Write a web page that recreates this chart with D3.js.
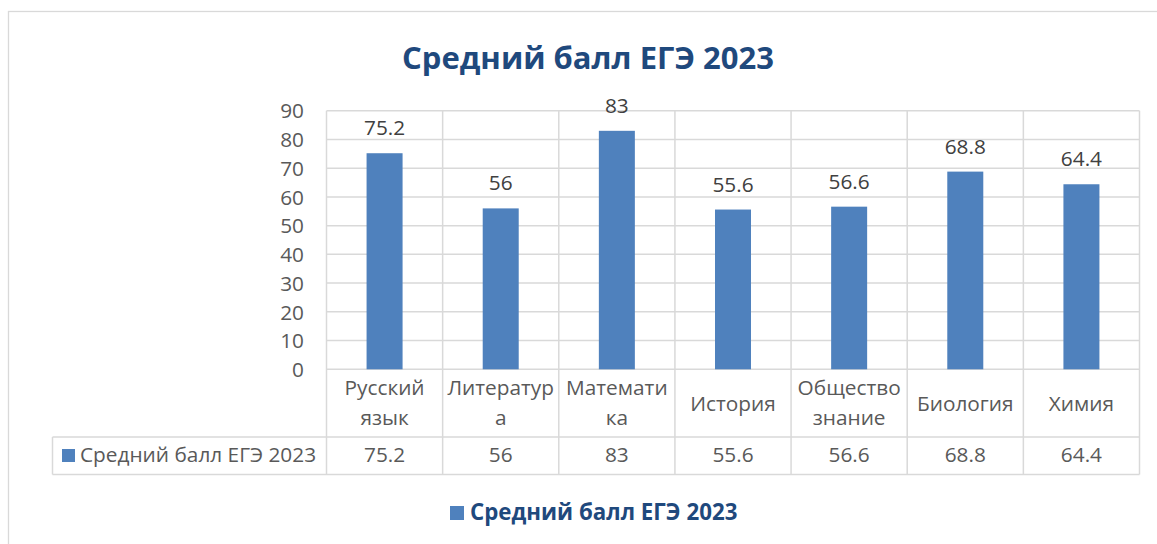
<!DOCTYPE html>
<html>
<head>
<meta charset="utf-8">
<script src="https://cdn.jsdelivr.net/npm/d3@7"></script>
<style>
  body { margin: 0; background: #fff; }
  svg text { font-family: 'Open Sans', 'Noto Sans', sans-serif; }
</style>
</head>
<body>
<div id="chart"></div>
<script>
// Data
const categories = ['Русский язык', 'Литература', 'Математика', 'История', 'Обществознание', 'Биология', 'Химия'];
const categoryLines = [['Русский', 'язык'], ['Литератур', 'а'], ['Математи', 'ка'], ['История'], ['Общество', 'знание'], ['Биология'], ['Химия']];
const values = [75.2, 56, 83, 55.6, 56.6, 68.8, 64.4];
const yTicks = [0, 10, 20, 30, 40, 50, 60, 70, 80, 90];
const seriesName = 'Средний балл ЕГЭ 2023';
const chartTitle = 'Средний балл ЕГЭ 2023';

const width = 1157;
const height = 544;
const plot = { left: 326.5, right: 1139.5, top: 110.7, bottom: 369.3 };
const table = { left: 52.5, rowMid: 437, bottom: 474.5 };

const barColor = '#4F81BD';
const gridColor = '#D9D9D9';
const titleColor = '#1F497D';
const labelSize = '20.8px';

const svg = d3.select('#chart')
    .append('svg')
    .attr('width', width)
    .attr('height', height);

// Outer chart border (runs off the window)
svg.append('rect')
    .attr('x', 8.5)
    .attr('y', 11.5)
    .attr('width', 1200)
    .attr('height', 600)
    .style('fill', 'none')
    .style('stroke', gridColor)
    .style('stroke-width', 1.3);

// Title
svg.append('text')
    .attr('x', 588)
    .attr('y', 69)
    .attr('text-anchor', 'middle')
    .style('font-size', '31px')
    .style('font-weight', 'bold')
    .style('fill', titleColor)
    .text(chartTitle);

// Scales
const xScale = d3.scaleBand()
    .domain(categories)
    .range([plot.left, plot.right])
    .padding(0);

const yScale = d3.scaleLinear()
    .domain([0, 90])
    .range([plot.bottom, plot.top]);

// Horizontal gridlines
svg.append('g')
    .selectAll('line')
    .data(yTicks)
    .join('line')
    .attr('x1', plot.left)
    .attr('x2', plot.right)
    .attr('y1', d => yScale(d))
    .attr('y2', d => yScale(d))
    .style('stroke', gridColor)
    .style('stroke-width', 1.5);

// Vertical category lines through plot and table
const bounds = categories.map(c => xScale(c)).concat([plot.right]);
svg.append('g')
    .selectAll('line')
    .data(bounds)
    .join('line')
    .attr('x1', d => d)
    .attr('x2', d => d)
    .attr('y1', plot.top)
    .attr('y2', table.bottom)
    .style('stroke', gridColor)
    .style('stroke-width', 1.5);

// Table horizontal lines and left edge
svg.append('line')
    .attr('x1', table.left).attr('x2', plot.right)
    .attr('y1', table.rowMid).attr('y2', table.rowMid)
    .style('stroke', gridColor).style('stroke-width', 1.5);
svg.append('line')
    .attr('x1', table.left).attr('x2', plot.right)
    .attr('y1', table.bottom).attr('y2', table.bottom)
    .style('stroke', gridColor).style('stroke-width', 1.5);
svg.append('line')
    .attr('x1', table.left).attr('x2', table.left)
    .attr('y1', table.rowMid).attr('y2', table.bottom)
    .style('stroke', gridColor).style('stroke-width', 1.5);

// Y axis labels
const yAxis = d3.axisLeft(yScale)
    .tickValues(yTicks)
    .tickSize(0)
    .tickPadding(0);

const yAxisG = svg.append('g')
    .attr('transform', `translate(304,0)`)
    .call(yAxis);
yAxisG.select('.domain').remove();
yAxisG.selectAll('text')
    .attr('dy', '0.35em')
    .style('font-size', labelSize)
    .style('fill', '#595959');

// Bars
const barWidth = xScale.bandwidth() * 0.31;
svg.append('g')
    .selectAll('rect')
    .data(values)
    .join('rect')
    .attr('x', (d, i) => xScale(categories[i]) + (xScale.bandwidth() - barWidth) / 2)
    .attr('y', d => yScale(d))
    .attr('width', barWidth)
    .attr('height', d => yScale(0) - yScale(d))
    .style('fill', barColor);

// Data labels
svg.append('g')
    .selectAll('text')
    .data(values)
    .join('text')
    .attr('x', (d, i) => xScale(categories[i]) + xScale.bandwidth() / 2)
    .attr('y', d => yScale(d) - 18)
    .attr('text-anchor', 'middle')
    .style('font-size', labelSize)
    .style('fill', '#404040')
    .text(d => d);

// Category labels (wrapped)
const catG = svg.append('g')
    .selectAll('text')
    .data(categoryLines)
    .join('text')
    .attr('x', (d, i) => xScale(categories[i]) + xScale.bandwidth() / 2)
    .attr('text-anchor', 'middle')
    .style('font-size', labelSize)
    .style('fill', '#595959');

catG.each(function(lines) {
    const startY = lines.length === 1 ? 411 : 395;
    d3.select(this).selectAll('tspan')
        .data(lines)
        .join('tspan')
        .attr('x', d3.select(this).attr('x'))
        .attr('y', (d, j) => startY + j * 30)
        .text(d => d);
});

// Data table row
svg.append('rect')
    .attr('x', 62)
    .attr('y', 449)
    .attr('width', 13)
    .attr('height', 13)
    .style('fill', barColor);

svg.append('text')
    .attr('x', 80)
    .attr('y', 462)
    .style('font-size', labelSize)
    .style('fill', '#595959')
    .text(seriesName);

svg.append('g')
    .selectAll('text')
    .data(values)
    .join('text')
    .attr('x', (d, i) => xScale(categories[i]) + xScale.bandwidth() / 2)
    .attr('y', 462)
    .attr('text-anchor', 'middle')
    .style('font-size', labelSize)
    .style('fill', '#595959')
    .text(d => d);

// Legend
svg.append('rect')
    .attr('x', 450)
    .attr('y', 506)
    .attr('width', 14)
    .attr('height', 14)
    .style('fill', barColor);

svg.append('text')
    .attr('x', 470)
    .attr('y', 520)
    .style('font-size', '22.3px')
    .style('font-weight', 'bold')
    .style('fill', titleColor)
    .text(seriesName);
</script>
</body>
</html>
